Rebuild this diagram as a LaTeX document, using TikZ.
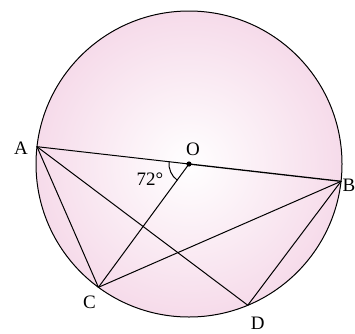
\documentclass[tikz,border=0pt]{standalone}
\usepackage{fontspec}
\setmainfont{Liberation Serif}
\definecolor{discpink}{RGB}{246,219,234}
\tikzset{
  chord/.style={line width=1pt},
  ptlabel/.style={font=\fontsize{19}{19}\selectfont,inner sep=1pt},
}

\begin{document}
\begin{tikzpicture}[x=1pt,y=1pt,line cap=round,line join=round]
\path[use as bounding box] (0,0) rectangle (355,333);
\def\rad{153}
\coordinate (O) at (189,169);
\shade[inner color=white,outer color=discpink] (O) circle[radius=\rad];
\draw[chord] (O) circle[radius=\rad];
\coordinate (A) at ([shift={(173.5:\rad)}]O);
\coordinate (B) at ([shift={(353.5:\rad)}]O);
\coordinate (C) at ([shift={(233.7:\rad)}]O);
\coordinate (D) at ([shift={(292.6:\rad)}]O);
\draw[chord] (A) -- (O);
\draw[line width=1.3pt] (O) -- (B);
\draw[chord] (A) -- (C);
\draw[chord] (A) -- (D);
\draw[chord] (O) -- (C);
\draw[chord] (C) -- (B);
\draw[chord] (B) -- (D);
\draw[chord] ([shift={(173.5:20)}]O) arc[start angle=173.5,end angle=233.7,radius=20];
\fill (O) circle[radius=2.6];
\node[ptlabel] (lA) at ([shift={(-16,-2)}]A) {A};
\node[ptlabel] (lO) at ([shift={(4,15)}]O) {O};
\node[ptlabel] (lB) at ([shift={(8,-4)}]B) {B};
\node[ptlabel] (lC) at ([shift={(-9,-15)}]C) {C};
\node[ptlabel] (lD) at ([shift={(10,-18)}]D) {D};
\node[ptlabel] (ang) at ([shift={(-39,-15)}]O) {72°};
\end{tikzpicture}
\end{document}
